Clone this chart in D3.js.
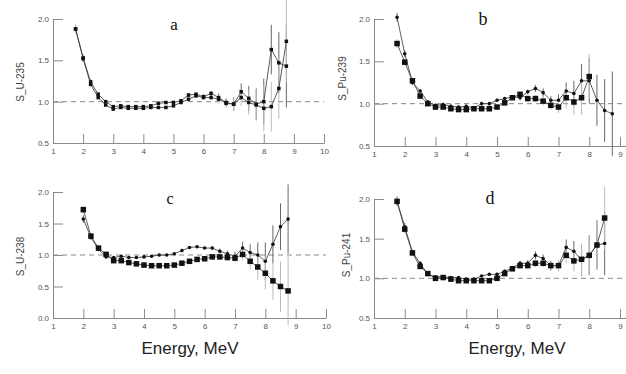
<!DOCTYPE html>
<html>
<head>
<meta charset="utf-8">
<script src="https://cdn.jsdelivr.net/npm/d3@7"></script>
<style>
  body { margin: 0; background: #fff; }
  svg { display: block; font-family: "Liberation Sans", Arial, sans-serif; }
  .axis path, .axis line { stroke: #8a8a8a; stroke-width: 1; }
  .axis text { fill: #555; font-size: 8px; font-family: "Liberation Sans", Arial, sans-serif; }
</style>
</head>
<body>
<script>
// Energies (MeV) for each panel
const energyA = [1.75, 2, 2.25, 2.5, 2.75, 3, 3.25, 3.5, 3.75, 4, 4.25, 4.5, 4.75, 5, 5.25, 5.5, 5.75, 6, 6.25, 6.5, 6.75, 7, 7.25, 7.5, 7.75, 8, 8.25, 8.5, 8.75];
const energyB2 = [1.75, 2, 2.25, 2.5, 2.75, 3, 3.25, 3.5, 3.75, 4, 4.25, 4.5, 4.75, 5, 5.25, 5.5, 5.75, 6, 6.25, 6.5, 6.75, 7, 7.25, 7.5, 7.75, 8];
const energyC = [2, 2.25, 2.5, 2.75, 3, 3.25, 3.5, 3.75, 4, 4.25, 4.5, 4.75, 5, 5.25, 5.5, 5.75, 6, 6.25, 6.5, 6.75, 7, 7.25, 7.5, 7.75, 8, 8.25, 8.5, 8.75];
const energyD = [1.75, 2, 2.25, 2.5, 2.75, 3, 3.25, 3.5, 3.75, 4, 4.25, 4.5, 4.75, 5, 5.25, 5.5, 5.75, 6, 6.25, 6.5, 6.75, 7, 7.25, 7.5, 7.75, 8, 8.25, 8.5];

// panel a : U-235
const a1 = [1.88, 1.53, 1.24, 1.09, 1.00, 0.94, 0.95, 0.94, 0.94, 0.94, 0.95, 0.98, 0.99, 0.99, 1.01, 1.08, 1.09, 1.06, 1.10, 1.05, 0.99, 0.97, 1.12, 1.04, 0.97, 1.00, 1.63, 1.47, 1.43];
const a2 = [1.88, 1.52, 1.21, 1.05, 0.96, 0.91, 0.93, 0.92, 0.92, 0.92, 0.93, 0.93, 0.93, 0.95, 0.99, 1.03, 1.07, 1.05, 1.05, 1.03, 0.98, 0.97, 1.05, 0.99, 0.96, 0.92, 0.94, 1.16, 1.73];
const errA1 = [0.05, 0.04, 0.03, 0.02, 0.02, 0.02, 0.01, 0.01, 0.01, 0.01, 0.01, 0.01, 0.01, 0.02, 0.02, 0.02, 0.02, 0.03, 0.03, 0.05, 0.05, 0.08, 0.1, 0.15, 0.19, 0.28, 0.3, 0.37, 0.5];
const errA2 = [0.05, 0.04, 0.03, 0.02, 0.02, 0.02, 0.01, 0.01, 0.01, 0.01, 0.01, 0.01, 0.01, 0.02, 0.02, 0.02, 0.02, 0.03, 0.03, 0.05, 0.05, 0.08, 0.1, 0.15, 0.19, 0.28, 0.3, 0.37, 0.5];

// panel b : Pu-239
const b1 = [2.02, 1.59, 1.25, 1.15, 1.02, 0.98, 0.99, 0.97, 0.96, 0.97, 0.95, 1.00, 1.00, 1.04, 1.06, 1.08, 1.07, 1.14, 1.18, 1.13, 1.04, 1.04, 1.15, 1.12, 1.27, 1.27, 1.04, 0.92, 0.88];
const b2 = [1.71, 1.49, 1.27, 1.09, 1.00, 0.96, 0.96, 0.94, 0.93, 0.93, 0.94, 0.94, 0.94, 0.96, 1.01, 1.07, 1.11, 1.06, 1.06, 1.03, 0.98, 0.96, 1.07, 1.02, 1.07, 1.32];
const errB1 = [0.05, 0.04, 0.03, 0.02, 0.02, 0.02, 0.02, 0.02, 0.02, 0.02, 0.02, 0.02, 0.02, 0.02, 0.02, 0.02, 0.03, 0.03, 0.04, 0.05, 0.05, 0.07, 0.1, 0.15, 0.2, 0.27, 0.3, 0.37, 0.5];
const errB2 = [0.05, 0.04, 0.03, 0.02, 0.02, 0.02, 0.02, 0.02, 0.02, 0.02, 0.02, 0.02, 0.02, 0.02, 0.02, 0.02, 0.03, 0.03, 0.04, 0.05, 0.05, 0.07, 0.13, 0.15, 0.2, 0.27];

// panel c : U-238
const c1 = [1.57, 1.28, 1.09, 0.97, 0.96, 0.98, 0.96, 0.96, 0.97, 0.98, 1.00, 1.00, 1.02, 1.07, 1.12, 1.13, 1.11, 1.11, 1.06, 1.02, 0.98, 1.11, 1.04, 1.00, 0.90, 1.17, 1.45, 1.57];
const c2 = [1.72, 1.30, 1.11, 1.01, 0.91, 0.91, 0.88, 0.86, 0.84, 0.83, 0.83, 0.83, 0.84, 0.87, 0.90, 0.93, 0.94, 0.97, 0.97, 0.96, 0.95, 1.01, 0.90, 0.81, 0.71, 0.59, 0.50, 0.43];
const errC1 = [0.06, 0.04, 0.03, 0.02, 0.02, 0.02, 0.01, 0.01, 0.01, 0.01, 0.01, 0.01, 0.01, 0.02, 0.02, 0.02, 0.02, 0.03, 0.04, 0.05, 0.07, 0.1, 0.13, 0.2, 0.3, 0.3, 0.37, 0.55];
const errC2 = [0.06, 0.04, 0.03, 0.02, 0.02, 0.02, 0.01, 0.01, 0.01, 0.01, 0.01, 0.01, 0.01, 0.02, 0.02, 0.02, 0.02, 0.03, 0.04, 0.05, 0.07, 0.1, 0.13, 0.2, 0.26, 0.3, 0.4, 0.55];

// panel d : Pu-241
const d1 = [1.97, 1.65, 1.33, 1.19, 1.05, 1.02, 1.02, 1.01, 1.01, 0.99, 0.99, 1.03, 1.05, 1.05, 1.09, 1.13, 1.19, 1.19, 1.29, 1.25, 1.16, 1.16, 1.39, 1.34, 1.23, 1.29, 1.42, 1.44];
const d2 = [1.97, 1.62, 1.32, 1.15, 1.06, 1.00, 1.01, 0.99, 0.97, 0.97, 0.97, 0.97, 0.97, 1.00, 1.06, 1.12, 1.16, 1.16, 1.19, 1.19, 1.16, 1.16, 1.29, 1.22, 1.24, 1.29, 1.42, 1.76];
const errD1 = [0.06, 0.05, 0.03, 0.02, 0.02, 0.02, 0.01, 0.01, 0.01, 0.01, 0.01, 0.01, 0.01, 0.02, 0.02, 0.02, 0.03, 0.04, 0.05, 0.05, 0.06, 0.07, 0.1, 0.13, 0.2, 0.25, 0.31, 0.4];
const errD2 = [0.06, 0.05, 0.03, 0.02, 0.02, 0.02, 0.01, 0.01, 0.01, 0.01, 0.01, 0.01, 0.01, 0.02, 0.02, 0.02, 0.03, 0.04, 0.05, 0.05, 0.06, 0.07, 0.1, 0.13, 0.2, 0.25, 0.31, 0.4];

// tick labels
const xTicksLeft = [1, 2, 3, 4, 5, 6, 7, 8, 9, 10];
const xTicksRight = [1, 2, 3, 4, 5, 6, 7, 8, 9];
const yTicks = [0.5, 1.0, 1.5, 2.0];
const yTicksC = [0.0, 0.5, 1.0, 1.5, 2.0];
const yLabels = ["S_U-235", "S_Pu-239", "S_U-238", "S_Pu-241"];
const letters = ["a", "b", "c", "d"];
const xTitle = "Energy, MeV";

// Set up the display area
const width = 626, height = 374;
const svg = d3.select("body")
  .append("svg")
  .attr("width", width)
  .attr("height", height);

// layout of the four panels (pixel boxes)
const panels = [
  { letter: letters[0], ylabel: yLabels[0], x0: 53, x1: 324, yBot: 143, yTop: 19, yDomain: [0.5, 2], yTicks: yTicks, xTicks: xTicksLeft,
    labelPos: [24, 82], letterPos: [174, 30], letterSize: 17, dashEnd: 324,
    series: [
      { x: energyA, y: a1, err: errA1, sym: "square", size: 3.5, errColor: "#666" },
      { x: energyA, y: a2, err: errA2, sym: "square", size: 3.5, errColor: "#bbb" }] },
  { letter: letters[1], ylabel: yLabels[1], x0: 374, x1: 650.75, yBot: 146, yTop: 19, yDomain: [0.5, 2], yTicks: yTicks, xTicks: xTicksRight,
    labelPos: [345.5, 78.5], letterPos: [483, 25], letterSize: 18, dashEnd: 626,
    series: [
      { x: energyA, y: b1, err: errB1, sym: "circle", size: 3.6, errColor: "#666" },
      { x: energyB2, y: b2, err: errB2, sym: "square", size: 5.5, errColor: "#bbb" }] },
  { letter: letters[2], ylabel: yLabels[2], x0: 53, x1: 326, yBot: 318, yTop: 192, yDomain: [0, 2], yTicks: yTicksC, xTicks: xTicksLeft,
    labelPos: [23.5, 256.5], letterPos: [170, 204], letterSize: 16, dashEnd: 326,
    series: [
      { x: energyC, y: c1, err: errC1, sym: "circle", size: 3.6, errColor: "#666" },
      { x: energyC, y: c2, err: errC2, sym: "square", size: 5.5, errColor: "#bbb" }] },
  { letter: letters[3], ylabel: yLabels[3], x0: 374, x1: 650.75, yBot: 318, yTop: 199, yDomain: [0.5, 2], yTicks: yTicks, xTicks: xTicksRight,
    labelPos: [350, 255], letterPos: [490, 204], letterSize: 18, dashEnd: 626,
    series: [
      { x: energyD, y: d1, err: errD1, sym: "circle", size: 3.6, errColor: "#666" },
      { x: energyD, y: d2, err: errD2, sym: "square", size: 5.5, errColor: "#bbb" }] }
];

panels.forEach(p => {
  const g = svg.append("g");
  const x = d3.scaleLinear().domain([1, 10]).range([p.x0, p.x1]);
  const y = d3.scaleLinear().domain(p.yDomain).range([p.yBot, p.yTop]);

  // dashed reference line at 1.0
  g.append("line")
    .attr("x1", p.x0).attr("x2", p.dashEnd)
    .attr("y1", y(1)).attr("y2", y(1))
    .attr("stroke", "#888")
    .attr("stroke-dasharray", "5,4");

  // axes
  g.append("g")
    .attr("class", "axis")
    .attr("transform", `translate(0,${p.yBot})`)
    .call(d3.axisBottom(x).tickValues(p.xTicks).tickSize(-9).tickSizeOuter(0).tickPadding(5)
      .tickFormat(d3.format("d")));

  g.append("g")
    .attr("class", "axis")
    .attr("transform", `translate(${p.x0},0)`)
    .call(d3.axisLeft(y).tickValues(p.yTicks).tickSize(-10).tickSizeOuter(0).tickPadding(4)
      .tickFormat(d3.format(".1f")));

  // error bars first, so lines and markers sit on top
  p.series.forEach(s => {
    const pts = s.x.map((e, i) => ({ e: e, v: s.y[i], err: s.err[i] }));

    g.append("g").selectAll("line")
      .data(pts)
      .enter().append("line")
      .attr("x1", d => x(d.e)).attr("x2", d => x(d.e))
      .attr("y1", d => y(d.v - d.err)).attr("y2", d => y(d.v + d.err))
      .attr("stroke", s.errColor)
      .attr("stroke-width", 1);
  });

  p.series.forEach(s => {
    const pts = s.x.map((e, i) => ({ e: e, v: s.y[i] }));

    g.append("path")
      .datum(pts)
      .attr("fill", "none")
      .attr("stroke", "#333")
      .attr("stroke-width", 0.8)
      .attr("d", d3.line().x(d => x(d.e)).y(d => y(d.v)));

    if (s.sym === "square") {
      g.append("g").selectAll("rect")
        .data(pts)
        .enter().append("rect")
        .attr("x", d => x(d.e) - s.size / 2)
        .attr("y", d => y(d.v) - s.size / 2)
        .attr("width", s.size).attr("height", s.size)
        .attr("fill", "#111");
    } else {
      g.append("g").selectAll("circle")
        .data(pts)
        .enter().append("circle")
        .attr("cx", d => x(d.e))
        .attr("cy", d => y(d.v))
        .attr("r", s.size / 2)
        .attr("fill", "#111");
    }
  });

  // panel letter
  g.append("text")
    .attr("x", p.letterPos[0]).attr("y", p.letterPos[1])
    .attr("text-anchor", "middle")
    .style("font-family", "'Liberation Serif', 'Times New Roman', serif")
    .style("font-size", p.letterSize + "px")
    .attr("fill", "#111")
    .text(p.letter);

  // y label
  g.append("text")
    .attr("transform", `translate(${p.labelPos[0]},${p.labelPos[1]}) rotate(-90)`)
    .attr("text-anchor", "middle")
    .style("font-size", "10px")
    .attr("fill", "#444")
    .text(p.ylabel);
});

// x titles under the bottom panels
[190, 517].forEach(cx => {
  svg.append("text")
    .attr("x", cx).attr("y", 354)
    .attr("text-anchor", "middle")
    .style("font-size", "17px")
    .attr("fill", "#222")
    .text(xTitle);
});
</script>
</body>
</html>
